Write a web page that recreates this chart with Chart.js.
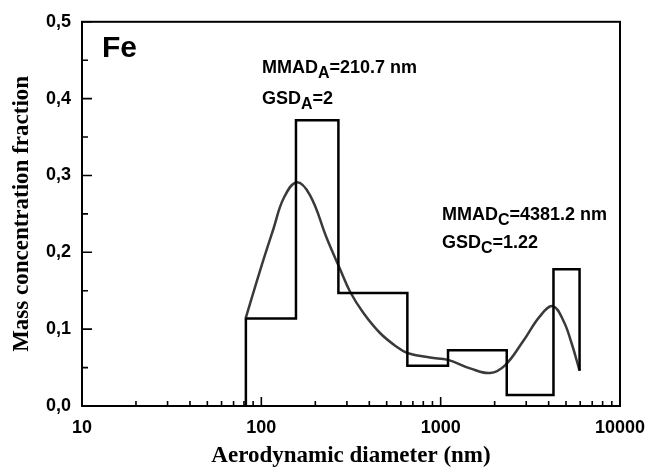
<!DOCTYPE html>
<html lang="en">
<head>
  <meta charset="UTF-8" />
  <title>Fe size distribution</title>
  <script src="https://cdn.jsdelivr.net/npm/chart.js"></script>
  <style>
    html, body { margin: 0; padding: 0; background: #fff; }
    #wrap { width: 659px; height: 470px; }
  </style>
</head>
<body>
<div id="wrap"><canvas id="chart" width="659" height="470"></canvas></div>

<script>
  // measured bins (nm) and mass fractions
  const binEdges = [82, 156, 269, 652, 1099, 2336, 4256, 5950];
  const binValues = [0.114, 0.372, 0.147, 0.0524, 0.0726, 0.0142, 0.178];
  const histStart = 0;
  const histEnd = 0.046;

  // fitted curve
  const fitX = [82, 98, 117, 133, 157, 187, 232, 275, 312, 371, 459, 569, 652, 873, 1099, 1459, 1885, 2285, 2893, 3582, 4216, 4834, 5383, 5950];
  const fitY = [0.115, 0.175, 0.231, 0.270, 0.291, 0.274, 0.218, 0.178, 0.149, 0.121, 0.095, 0.077, 0.069, 0.063, 0.060, 0.049, 0.043, 0.053, 0.085, 0.117, 0.130, 0.111, 0.081, 0.046];

  const xMajorTicks = [10, 100, 1000, 10000];
  const xMinorTicks = [20, 30, 40, 50, 60, 70, 80, 90, 200, 300, 400, 500, 600, 700, 800, 900, 2000, 3000, 4000, 5000, 6000, 7000, 8000, 9000];
  const yMajorTicks = [0, 0.1, 0.2, 0.3, 0.4, 0.5];
  const yMinorTicks = [0.05, 0.15, 0.25, 0.35, 0.45];

  const histPoints = [{ x: binEdges[0], y: histStart }];
  binValues.forEach((v, i) => histPoints.push({ x: binEdges[i], y: v }));
  histPoints.push({ x: binEdges[binEdges.length - 1], y: binValues[binValues.length - 1] });
  histPoints.push({ x: binEdges[binEdges.length - 1], y: histEnd });

  const fitPoints = fitX.map((x, i) => ({ x: x, y: fitY[i] }));

  const SANS = '"Liberation Sans", Arial, sans-serif';
  const SERIF = '"Liberation Serif", "Times New Roman", serif';

  // frame + inward ticks + text labels
  const framePlugin = {
    id: 'frame',
    afterDraw(chart) {
      const { ctx, chartArea: a, scales } = chart;
      ctx.save();
      ctx.strokeStyle = '#000';
      ctx.lineWidth = 2;
      ctx.strokeRect(a.left, a.top, a.right - a.left, a.bottom - a.top);

      ctx.lineWidth = 1.6;
      ctx.beginPath();
      xMajorTicks.forEach(v => {
        const px = scales.x.getPixelForValue(v);
        ctx.moveTo(px, a.bottom); ctx.lineTo(px, a.bottom - 9);
      });
      xMinorTicks.forEach(v => {
        const px = scales.x.getPixelForValue(v);
        ctx.moveTo(px, a.bottom); ctx.lineTo(px, a.bottom - 5);
      });
      yMajorTicks.forEach(v => {
        const py = scales.y.getPixelForValue(v);
        ctx.moveTo(a.left, py); ctx.lineTo(a.left + 10, py);
      });
      yMinorTicks.forEach(v => {
        const py = scales.y.getPixelForValue(v);
        ctx.moveTo(a.left, py); ctx.lineTo(a.left + 6, py);
      });
      ctx.stroke();

      ctx.fillStyle = '#000';
      ctx.textBaseline = 'alphabetic';
      ctx.font = 'bold 30px ' + SANS;
      ctx.fillText('Fe', 102, 57);

      function subText(main, sub, rest, x, y) {
        ctx.font = 'bold 18px ' + SANS;
        ctx.fillText(main, x, y);
        x += ctx.measureText(main).width;
        ctx.font = 'bold 16px ' + SANS;
        ctx.fillText(sub, x, y + 5);
        x += ctx.measureText(sub).width;
        ctx.font = 'bold 18px ' + SANS;
        ctx.fillText(rest, x, y);
      }
      subText('MMAD', 'A', '=210.7 nm', 262, 73);
      subText('GSD', 'A', '=2', 262, 104);
      subText('MMAD', 'C', '=4381.2 nm', 442, 220);
      subText('GSD', 'C', '=1.22', 442, 248);
      ctx.restore();
    }
  };

  new Chart(document.getElementById('chart'), {
    type: 'scatter',
    data: {
      datasets: [
        {
          label: 'Measured',
          data: histPoints,
          showLine: true,
          stepped: 'before',
          borderColor: '#000',
          borderWidth: 2.5,
          pointRadius: 0,
          fill: false
        },
        {
          label: 'Fit',
          data: fitPoints,
          showLine: true,
          tension: 0.4,
          borderColor: '#3a3a3a',
          borderWidth: 2.5,
          pointRadius: 0,
          fill: false
        }
      ]
    },
    options: {
      responsive: false,
      animation: false,
      layout: { padding: { top: 18, right: 39, left: 0, bottom: 0 } },
      plugins: {
        legend: { display: false },
        tooltip: { enabled: false }
      },
      scales: {
        x: {
          type: 'logarithmic',
          min: 10,
          max: 10000,
          afterFit: s => { s.height = 64; },
          afterBuildTicks: s => { s.ticks = xMajorTicks.map(v => ({ value: v })); },
          grid: { display: false, drawTicks: false },
          border: { display: false },
          ticks: {
            autoSkip: false,
            maxRotation: 0,
            padding: 11,
            color: '#000',
            font: { family: SANS, size: 18, weight: 'bold' },
            callback: v => String(v)
          },
          title: {
            display: true,
            text: 'Aerodynamic diameter (nm)',
            color: '#000',
            font: { family: SERIF, size: 23, weight: 'bold' },
            padding: { top: 0, bottom: 0 }
          }
        },
        y: {
          min: 0,
          max: 0.5,
          afterFit: s => { s.width = 82; },
          afterBuildTicks: s => { s.ticks = yMajorTicks.map(v => ({ value: v })); },
          grid: { display: false, drawTicks: false },
          border: { display: false },
          ticks: {
            padding: 11,
            color: '#000',
            font: { family: SANS, size: 18, weight: 'bold' },
            callback: v => Number(v).toFixed(1).replace('.', ',')
          },
          title: {
            display: true,
            text: 'Mass concentration fraction',
            color: '#000',
            font: { family: SERIF, size: 23, weight: 'bold' },
            padding: { top: 8, bottom: 0 }
          }
        }
      }
    },
    plugins: [framePlugin]
  });
</script>
</body>
</html>
